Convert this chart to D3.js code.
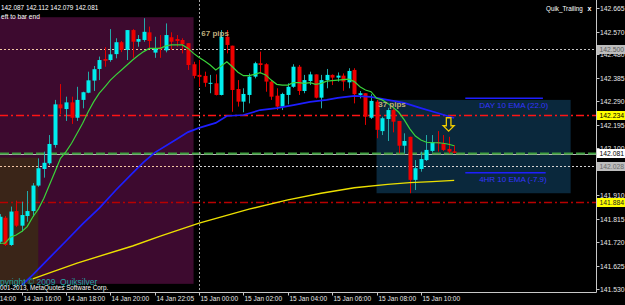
<!DOCTYPE html>
<html>
<head>
<meta charset="utf-8">
<script src="https://cdn.jsdelivr.net/npm/d3@7"></script>
<style>
  html, body { margin: 0; padding: 0; background: #000; }
  svg { display: block; }
  text { font-family: "Liberation Sans", Arial, sans-serif; }
</style>
</head>
<body>
<script>
"use strict";
// M15 bars, index 0 = 14 Jan ~15:00
const open = [141.722,141.819,141.709,141.846,141.787,141.826,141.846,141.949,142.016,142.039,
  142.113,142.277,142.258,142.285,142.223,142.295,142.324,142.373,142.420,142.460,
  142.456,142.480,142.528,142.497,142.577,142.530,142.537,142.568,142.486,142.507,
  142.495,142.548,142.541,142.537,142.524,142.439,142.396,142.392,142.360,142.362,
  142.315,142.550,142.514,142.339,142.288,142.315,142.389,142.443,142.439,142.369,
  142.312,142.268,142.315,142.348,142.429,142.331,142.371,142.398,142.304,142.375,
  142.396,142.385,142.393,142.366,142.416,142.315,142.322,142.223,142.288,142.169,
  142.218,142.254,142.210,142.110,142.146,141.972,142.016,142.052,142.089,142.124,
  142.120,142.097,142.087]
const high = [141.834,141.826,141.864,141.888,141.884,141.927,141.959,142.059,142.086,142.153,
  142.295,142.359,142.308,142.308,142.348,142.328,142.409,142.432,142.470,142.508,
  142.581,142.544,142.533,142.577,142.581,142.557,142.625,142.591,142.550,142.557,
  142.604,142.568,142.557,142.544,142.524,142.449,142.456,142.409,142.396,142.398,
  142.577,142.577,142.514,142.375,142.342,142.402,142.449,142.490,142.443,142.375,
  142.342,142.324,142.362,142.439,142.436,142.396,142.409,142.398,142.396,142.420,
  142.398,142.406,142.402,142.423,142.423,142.331,142.322,142.318,142.295,142.227,
  142.263,142.261,142.210,142.160,142.146,142.052,142.086,142.153,142.153,142.169,
  142.153,142.146,142.112]
const low = [141.713,141.705,141.705,141.782,141.763,141.803,141.823,141.944,141.981,142.032,
  142.102,142.238,142.210,142.198,142.210,142.261,142.322,142.331,142.375,142.429,
  142.449,142.463,142.488,142.456,142.465,142.510,142.530,142.503,142.465,142.465,
  142.487,142.497,142.510,142.483,142.416,142.382,142.348,142.348,142.322,142.313,
  142.313,142.483,142.247,142.268,142.245,142.281,142.382,142.402,142.328,142.295,
  142.254,142.254,142.277,142.344,142.315,142.322,142.355,142.301,142.261,142.342,
  142.355,142.369,142.332,142.342,142.281,142.301,142.194,142.218,142.140,142.153,
  142.129,142.164,142.079,142.079,141.918,141.931,142.005,142.048,142.083,142.086,
  142.089,142.079,142.079]
const close = [141.823,141.709,141.844,141.787,141.830,141.846,141.949,142.019,142.041,142.117,
  142.277,142.261,142.285,142.223,142.295,142.326,142.374,142.419,142.456,142.453,
  142.479,142.528,142.497,142.577,142.530,142.541,142.570,142.533,142.503,142.499,
  142.557,142.530,142.533,142.520,142.436,142.392,142.388,142.364,142.364,142.315,
  142.550,142.517,142.335,142.288,142.319,142.389,142.443,142.436,142.369,142.308,
  142.268,142.319,142.348,142.429,142.331,142.375,142.398,142.304,142.375,142.396,
  142.385,142.393,142.369,142.412,142.318,142.322,142.227,142.291,142.174,142.221,
  142.254,142.207,142.110,142.129,141.972,142.019,142.056,142.093,142.124,142.120,
  142.093,142.086,142.081]

// moving averages
const maFast = [141.716,141.716,141.741,141.749,141.763,141.783,141.822,141.854,141.898,141.951,
  142.005,142.059,142.086,142.120,142.160,142.201,142.247,142.288,142.322,142.348,
  142.375,142.396,142.416,142.436,142.456,142.474,142.490,142.503,142.503,142.503,
  142.513,142.517,142.517,142.517,142.503,142.483,142.466,142.452,142.436,142.416,
  142.432,142.449,142.429,142.407,142.393,142.393,142.398,142.405,142.396,142.375,
  142.358,142.355,142.355,142.365,142.365,142.362,142.365,142.358,142.362,142.371,
  142.373,142.375,142.377,142.379,142.369,142.348,142.335,142.328,142.302,142.295,
  142.281,142.264,142.245,142.214,142.178,142.149,142.133,142.124,142.122,142.122,
  142.120,142.116,142.110]
const maMidIdx = [4,6,9,12,15,18,21,24,26,28,32,34,36,39,41,44,47,50,53,56,59,61,64,67,70,73,76,79,82]
const maMid = [141.547,141.588,141.657,141.725,141.794,141.858,141.931,141.999,142.044,142.082,
  142.137,142.165,142.182,142.202,142.230,142.234,142.254,142.262,142.274,142.287,
  142.295,142.303,142.311,142.307,142.295,142.283,142.262,142.242,142.222]
const maSlowIdx = [6,8,14,24,29,36,45,52,58,64,70,74,78,82]
const maSlow = [141.572,141.588,141.636,141.705,141.745,141.797,141.854,141.891,141.918,141.940,
  141.954,141.961,141.965,141.970]

const timeTickIdx = [-4,4,12,20,28,36,44,52,60,68,76]
const timeTickLabels = ["14 Jan 14:00","14 Jan 16:00","14 Jan 18:00","14 Jan 20:00","14 Jan 22:05",
  "15 Jan 00:00","15 Jan 02:00","15 Jan 04:00","15 Jan 06:00","15 Jan 08:00","15 Jan 10:00"]
const priceTicks = [142.665,142.570,142.480,142.385,142.290,142.195,142.100,141.910,141.815,141.720,141.625,141.530]

// objects: [from bar, to bar, top price, bottom price]
const zoneAsia = [-1, 35, 142.629, 141.552]
const zoneEarly = [-1, 7, 142.062, 141.552]
const zoneBox = [68, 103, 142.295, 141.918]
const levelPrices = [142.500, 142.234, 142.081, 142.028, 141.884]
const separatorIdx = 36
const pipNotes = [[36.4, 142.554, "67 pips"], [68.3, 142.266, "37 pips"]]
const emaNotes = [[84, 98, 142.302, 142.264, "DAY 10 EMA (22.0)"], [84, 98.5, 142.001, 141.964, "4HR 10 EMA (-7.9)"]]
const arrowAt = [81, 142.223, 142.169]

const W = 625, H = 305
const plotR = 596.5, plotB = 292.5
const x = d3.scaleLinear().domain([0, 100]).range([-0.5, 554])
const y = d3.scaleLinear().domain([141.530, 142.665]).range([289.3, 8.3])

const svg = d3.select("body").append("svg")
    .attr("width", W)
    .attr("height", H)
svg.append("rect").attr("width", W).attr("height", H).attr("fill", "#000")

const defs = svg.append("defs")
defs.append("clipPath").attr("id", "plot")
  .append("rect").attr("width", plotR).attr("height", plotB)
const tint = defs.append("clipPath").attr("id", "tint")

const g = svg.append("g").attr("clip-path", "url(#plot)")

function zone(z, fill, clip) {
  g.append("rect")
    .attr("x", x(z[0])).attr("y", y(z[2]))
    .attr("width", x(z[1]) - x(z[0])).attr("height", y(z[3]) - y(z[2]))
    .attr("fill", fill)
  if (clip) {
    tint.append("rect")
      .attr("x", x(z[0])).attr("y", y(z[2]))
      .attr("width", x(z[1]) - x(z[0])).attr("height", y(z[3]) - y(z[2]))
  }
}
zone(zoneAsia, "#3d0a2f", true)
zone(zoneEarly, "#3a2518", true)
zone(zoneBox, "#0a283c", false)

// horizontal levels
const levelStyle = [
  {c: "#c4c4c4", w: 1, d: "2,2", tint: "#f2c6a4"},
  {c: "#ff1414", w: 1.3, d: "8,3,2,3"},
  {c: "#3c9c3c", w: 2, d: "9,3", under: "#b8b8b8"},
  {c: "#d4d4d4", w: 1, d: "2,2", tint: "#f2c6a4"},
  {c: "#b80000", w: 1.5, d: "8,3,2,3"}
]
levelPrices.forEach(function(p, i) {
  let s = levelStyle[i]
  let yy = Math.round(y(p)) + 0.5
  if (s.under) {
    g.append("line").attr("x1", 0).attr("x2", plotR).attr("y1", yy + 1).attr("y2", yy + 1)
      .attr("stroke", s.under).attr("stroke-width", 1)
  }
  g.append("line").attr("x1", 0).attr("x2", plotR).attr("y1", yy).attr("y2", yy)
    .attr("stroke", s.c).attr("stroke-width", s.w).attr("stroke-dasharray", s.d)
  if (s.tint) {
    g.append("line").attr("x1", 0).attr("x2", plotR).attr("y1", yy).attr("y2", yy)
      .attr("clip-path", "url(#tint)")
      .attr("stroke", s.tint).attr("stroke-width", s.w).attr("stroke-dasharray", s.d)
  }
})

// day separator
g.append("line")
  .attr("x1", Math.round(x(separatorIdx)) + 0.5).attr("x2", Math.round(x(separatorIdx)) + 0.5)
  .attr("y1", 0).attr("y2", plotB)
  .attr("stroke", "#a8a8a8").attr("stroke-dasharray", "2,2")

// candles
const bars = d3.range(open.length)
g.selectAll(".wick")
  .data(bars)
  .enter()
  .append("line")
    .attr("x1", i => Math.round(x(i)) + 0.5)
    .attr("x2", i => Math.round(x(i)) + 0.5)
    .attr("y1", i => y(high[i]))
    .attr("y2", i => y(low[i]))
    .attr("stroke", i => close[i] >= open[i] ? "#23a9a9" : "#e00000")
    .attr("stroke-width", 1)
g.selectAll(".body")
  .data(bars)
  .enter()
  .append("rect")
    .attr("x", i => Math.round(x(i)) - 1.5)
    .attr("width", 4)
    .attr("y", i => y(Math.max(open[i], close[i])))
    .attr("height", i => Math.max(1, Math.abs(y(open[i]) - y(close[i]))))
    .attr("fill", i => close[i] >= open[i] ? "#00eeee" : "#ee0000")

// moving averages
let line = d3.line()
    .x(d => x(d[0]))
    .y(d => y(d[1]))
g.append("path")
  .datum(maSlowIdx.map((d, i) => [d, maSlow[i]]))
  .attr("d", line).attr("fill", "none").attr("stroke", "#ece000").attr("stroke-width", 1.4)
g.append("path")
  .datum(maMidIdx.map((d, i) => [d, maMid[i]]))
  .attr("d", line).attr("fill", "none").attr("stroke", "#1e1eff").attr("stroke-width", 1.7)
g.append("path")
  .datum(maFast.map((d, i) => [i, d]))
  .attr("d", line).attr("fill", "none").attr("stroke", "#3ad43a").attr("stroke-width", 1.2)

// EMA labels
emaNotes.forEach(function(n) {
  g.append("line").attr("x1", x(n[0])).attr("x2", x(n[1])).attr("y1", y(n[2])).attr("y2", y(n[2]))
    .attr("stroke", "#1e1eff").attr("stroke-width", 1.5)
  g.append("text").attr("x", x(n[0] + 2.5)).attr("y", y(n[3]))
    .attr("font-size", "8px").attr("fill", "#3434ff").text(n[4])
})

// pips notes
pipNotes.forEach(function(n) {
  g.append("text").attr("x", x(n[0])).attr("y", y(n[1]))
    .attr("font-size", "8px").attr("font-weight", "bold").attr("fill", "#bfae7c").text(n[2])
})

// signal arrow
let ax = x(arrowAt[0]), at = y(arrowAt[1]), ab = y(arrowAt[2])
let ah = at + (ab - at) * 0.6
g.append("path")
  .attr("d", "M" + (ax - 2.3) + "," + at + "L" + (ax + 2.3) + "," + at + "L" + (ax + 2.3) + "," + ah +
    "L" + (ax + 5.5) + "," + ah + "L" + ax + "," + ab + "L" + (ax - 5.5) + "," + ah +
    "L" + (ax - 2.3) + "," + ah + "Z")
  .attr("fill", "none").attr("stroke", "#f0cc00").attr("stroke-width", 1.3)

// info texts
const last = open.length - 1
svg.append("text").attr("x", 1).attr("y", 9.5).attr("font-size", "6.4px").attr("fill", "#fff")
  .text([open[last], high[last], low[last], close[last]].map(d => d.toFixed(3)).join(" "))
svg.append("text").attr("x", 1).attr("y", 18.5).attr("font-size", "6.6px").attr("fill", "#fff")
  .text("eft to bar end")
svg.append("text").attr("x", 546).attr("y", 10.5).attr("font-size", "6.3px").attr("fill", "#fff")
  .text("Quik_Trailing")
svg.append("text").attr("x", 587.5).attr("y", 11).attr("font-size", "7px").attr("font-weight", "bold")
  .attr("fill", "#fff").text("x")
svg.append("text").attr("x", -10.9).attr("y", 284.5).attr("font-size", "8.5px").attr("fill", "#1fa3a3")
  .attr("xml:space", "preserve").text("Copyright © 2009  Quiksilver")
svg.append("text").attr("x", -3.5).attr("y", 289.8).attr("font-size", "6.3px").attr("fill", "#fff")
  .text("2001-2013, MetaQuotes Software Corp.")

// axes
svg.append("line").attr("x1", plotR).attr("x2", plotR).attr("y1", 0).attr("y2", plotB)
  .attr("stroke", "#c8c8c8")
svg.append("line").attr("x1", 0).attr("x2", plotR).attr("y1", plotB).attr("y2", plotB)
  .attr("stroke", "#c8c8c8")

priceTicks.forEach(function(p) {
  let yy = Math.round(y(p)) + 0.5
  svg.append("line").attr("x1", plotR).attr("x2", plotR + 3).attr("y1", yy).attr("y2", yy)
    .attr("stroke", "#c8c8c8")
  svg.append("text").attr("x", 600).attr("y", yy + 2.4).attr("font-size", "6.8px")
    .attr("fill", "#e8e8e8").text(p.toFixed(3))
})

const boxStyle = [
  {bg: "#bdbdbd", fg: "#5a5a5a"},
  {bg: "#ffff00", fg: "#000"},
  {bg: "#ffffff", fg: "#000"},
  {bg: "#bdbdbd", fg: "#6a6a6a"},
  {bg: "#ffff00", fg: "#222"}
]
levelPrices.forEach(function(p, i) {
  let yy = Math.round(y(p)) + 0.5
  svg.append("rect").attr("x", 597).attr("y", yy - 4.5).attr("width", 28).attr("height", 9)
    .attr("fill", boxStyle[i].bg)
  svg.append("text").attr("x", 599.5).attr("y", yy + 2.4).attr("font-size", "6.8px")
    .attr("fill", boxStyle[i].fg).text(p.toFixed(3))
})

timeTickIdx.forEach(function(t, i) {
  let xx = Math.round(x(t)) + 0.5
  svg.append("line").attr("x1", xx).attr("x2", xx).attr("y1", plotB).attr("y2", plotB + 3)
    .attr("stroke", "#c8c8c8")
  svg.append("text").attr("x", xx + 1).attr("y", 300.5).attr("font-size", "6.5px")
    .attr("fill", "#e8e8e8").text(timeTickLabels[i])
})
</script>
</body>
</html>
